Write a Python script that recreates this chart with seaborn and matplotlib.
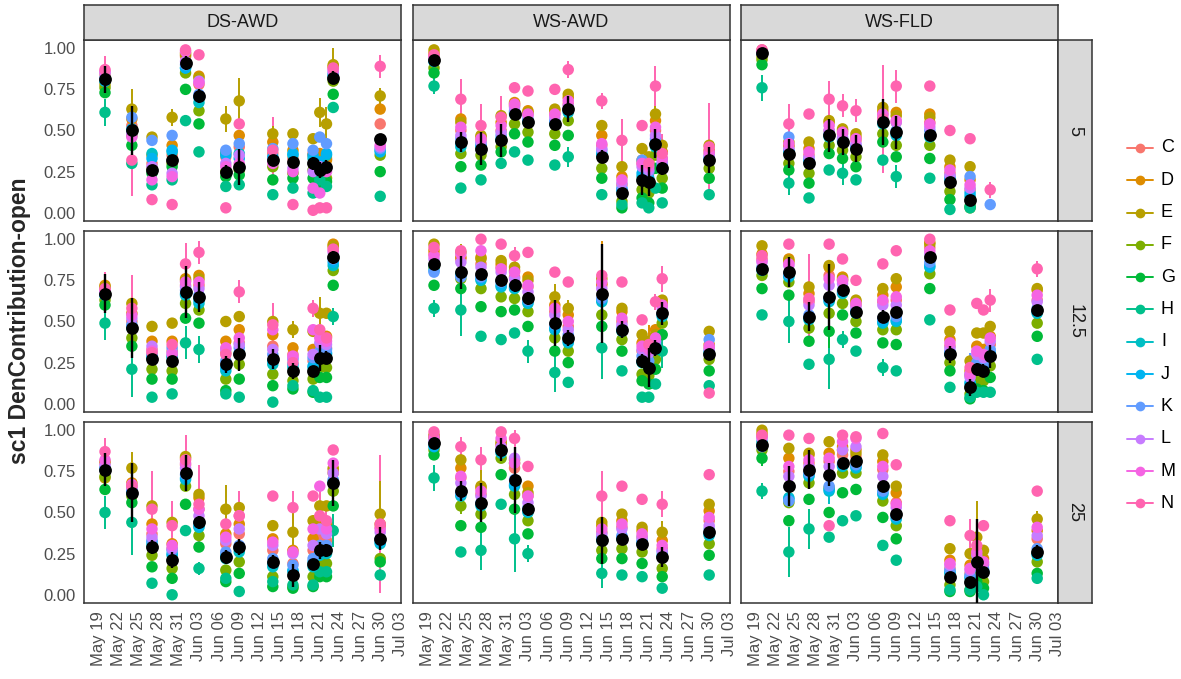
import numpy as np
import pandas as pd
import matplotlib
matplotlib.use("Agg")
import matplotlib.pyplot as plt
import matplotlib.dates as mdates
from matplotlib.lines import Line2D
import seaborn as sns

cats = ["C", "D", "E", "F", "G", "H", "I", "J", "K", "L", "M", "N"]
colors = ["#F8766D", "#DE8C00", "#B79F00", "#7CAE00", "#00BA38", "#00C08B",
          "#00BFC4", "#00B4F0", "#619CFF", "#C77CFF", "#F564E3", "#FF64B0"]
treatments = ["DS-AWD", "WS-AWD", "WS-FLD"]
levels = ["5", "12.5", "25"]

# ---- level 5 ----
dates_ds5 = ["05-20", "05-24", "05-27", "05-30", "06-01", "06-03", "06-07", "06-09",
             "06-14", "06-17", "06-20", "06-21", "06-22", "06-23", "06-30"]
vals_ds5 = [  # C D E F G H I J K L M N
    [.84, .80, .78, .76, .73, .61, .80, .80, .82, .85, .86, .87],
    [.53, .57, .63, .47, .41, .30, .50, .51, .58, .48, .46, .32],
    [.30, .35, .46, .27, .24, .17, .36, .33, .44, .28, .20, .08],
    [.35, .41, .58, .30, .28, .20, .37, .38, .47, .24, .22, .05],
    [.95, .97, .96, .85, .75, .56, .88, .88, .90, .92, .98, .99],
    [.78, .83, .82, .62, .54, .37, .67, .70, .72, .80, .79, .96],
    [.34, .36, .57, .25, .22, .16, .37, .35, .38, .30, .28, .03],
    [.40, .47, .68, .26, .23, .17, .36, .33, .42, .35, .30, .54],
    [.36, .43, .48, .28, .20, .11, .33, .34, .39, .32, .30, .38],
    [.33, .38, .48, .24, .21, .15, .35, .36, .42, .27, .25, .05],
    [.36, .35, .45, .26, .21, .12, .33, .35, .38, .25, .15, .015],
    [.32, .36, .61, .22, .18, .20, .30, .31, .46, .28, .12, .03],
    [.33, .32, .54, .21, .19, .16, .35, .36, .42, .27, .25, .03],
    [.88, .89, .90, .80, .72, .64, .84, .83, .85, .87, .86, .88],
    [.54, .63, .71, .35, .25, .10, .38, .37, .39, .40, .41, .89],
]
mean_ds5 = [.81, .50, .26, .32, .91, .71, .25, .28, .32, .31, .30, .26, .28, .82, .45]
sd_ds5 = [.08, .15, .03, .03, .04, .04, .04, .11, .03, .03, .04, .05, .04, .04, .03]
bars_ds5 = [("05-20", "N", .08), ("05-20", "H", .08), ("05-24", "N", .22), ("05-24", "E", .12),
            ("06-07", "E", .08), ("06-09", "E", .14), ("06-14", "N", .20), ("06-21", "E", .09),
            ("06-22", "E", .10), ("06-23", "E", .10), ("06-30", "N", .07), ("06-30", "E", .05),
            ("05-30", "E", .05), ("06-14", "E", .05)]

dates_ws5 = ["05-20", "05-24", "05-27", "05-30", "06-01", "06-03", "06-07", "06-09",
             "06-14", "06-17", "06-20", "06-21", "06-22", "06-23", "06-30"]
vals_ws5 = [
    [.95, .97, .99, .88, .85, .77, .92, .92, .93, .94, .95, .96],
    [.50, .57, .55, .36, .28, .15, .40, .42, .45, .47, .52, .69],
    [.44, .46, .47, .35, .29, .20, .40, .41, .42, .43, .45, .53],
    [.50, .55, .59, .40, .37, .30, .44, .45, .47, .49, .53, .58],
    [.66, .67, .65, .54, .48, .37, .60, .61, .62, .64, .66, .76],
    [.60, .62, .61, .49, .43, .32, .55, .56, .57, .59, .60, .74],
    [.60, .62, .63, .48, .41, .29, .54, .55, .56, .58, .60, .75],
    [.66, .70, .72, .56, .47, .34, .61, .62, .63, .65, .68, .87],
    [.41, .47, .53, .27, .21, .11, .35, .36, .38, .39, .42, .68],
    [.17, .22, .28, .07, .03, .05, .14, .14, .15, .18, .20, .44],
    [.30, .32, .39, .14, .09, .06, .22, .24, .32, .28, .30, .53],
    [.24, .31, .34, .12, .06, .03, .20, .21, .25, .26, .28, .30],
    [.50, .56, .60, .35, .27, .15, .40, .42, .45, .47, .52, .77],
    [.33, .37, .41, .21, .15, .06, .28, .29, .30, .31, .33, .36],
    [.36, .38, .41, .27, .21, .11, .32, .33, .34, .35, .37, .40],
]
mean_ws5 = [.93, .43, .39, .44, .60, .55, .54, .63, .34, .12, .20, .19, .42, .27, .32]
sd_ws5 = [.02, .06, .10, .10, .03, .03, .03, .08, .04, .02, .09, .09, .09, .04, .08]
bars_ws5 = [("05-24", "N", .12), ("05-27", "N", .13), ("05-30", "N", .13), ("06-09", "N", .05),
            ("06-17", "N", .13), ("06-22", "N", .12), ("06-21", "D", .06), ("06-30", "N", .27),
            ("06-23", "N", .12), ("05-20", "H", .05), ("06-09", "H", .06), ("06-14", "N", .05),
            ("06-22", "E", .05)]

dates_fld5 = ["05-20", "05-24", "05-27", "05-30", "06-01", "06-03", "06-07", "06-09",
              "06-14", "06-17", "06-20", "06-23"]
vals_fld5 = [
    [.99, .98, .95, .93, .90, .76, .97, .97, .97, .98, .98, .99],
    [.40, .41, .43, .30, .26, .18, .37, .38, .46, .39, .42, .54],
    [.35, .39, .43, .24, .18, .09, .31, .32, .33, .34, .37, .60],
    [.50, .55, .56, .41, .36, .26, .46, .47, .48, .50, .53, .69],
    [.48, .50, .51, .38, .33, .24, .43, .44, .45, .46, .49, .65],
    [.44, .46, .48, .34, .28, .20, .39, .40, .41, .42, .45, .62],
    [.60, .62, .64, .48, .43, .32, .54, .55, .56, .58, .60, .57],
    [.55, .61, .59, .41, .34, .22, .47, .48, .50, .55, .56, .77],
    [.55, .60, .58, .41, .33, .21, .46, .47, .50, .52, .54, .77],
    [.24, .28, .32, .13, .08, .02, .20, .21, .22, .23, .26, .50],
    [.14, .20, .28, .03, .04, .03, .10, .12, .22, .15, .17, .45],
    [None, None, None, None, None, None, None, None, .05, None, None, .14],
]
mean_fld5 = [.97, .36, .30, .47, .43, .39, .55, .49, .47, .19, .08, None]
sd_fld5 = [.02, .09, .03, .10, .08, .08, .14, .10, .03, .03, .02, None]
bars_fld5 = [("05-24", "N", .12), ("05-30", "N", .11), ("06-01", "N", .07), ("06-03", "N", .07),
             ("06-07", "N", .33), ("06-09", "N", .10), ("06-23", "N", .05), ("05-20", "H", .08),
             ("06-09", "H", .07), ("06-01", "H", .07), ("05-24", "H", .07)]

# ---- level 12.5 ----
dates_ds12 = ["05-20", "05-24", "05-27", "05-30", "06-01", "06-03", "06-07", "06-09",
              "06-14", "06-17", "06-20", "06-21", "06-22", "06-23"]
vals_ds12 = [
    [.70, .72, .71, .63, .60, .49, .66, .66, .67, .68, .69, .70],
    [.50, .55, .61, .40, .35, .21, .46, .47, .48, .52, .54, .58],
    [.33, .38, .47, .21, .15, .04, .28, .29, .30, .35, .32, .31],
    [.32, .38, .49, .20, .15, .06, .28, .29, .34, .31, .30, .36],
    [.72, .76, .75, .61, .52, .37, .66, .67, .69, .71, .74, .85],
    [.72, .78, .76, .57, .49, .33, .61, .63, .66, .70, .74, .92],
    [.31, .38, .50, .15, .08, .06, .20, .22, .26, .33, .34, .30],
    [.37, .45, .53, .24, .15, .04, .30, .31, .34, .36, .40, .68],
    [.35, .42, .50, .18, .11, .01, .24, .26, .30, .33, .45, .48],
    [.30, .34, .45, .14, .09, .11, .22, .24, .27, .28, .29, .25],
    [.26, .33, .44, .15, .07, .08, .22, .23, .28, .30, .45, .58],
    [.35, .42, .55, .22, .16, .04, .28, .30, .32, .37, .40, .45],
    [.34, .41, .55, .22, .16, .04, .30, .31, .33, .36, .38, .40],
    [.95, .97, .96, .81, .72, .53, .84, .86, .88, .92, .93, .94],
]
mean_ds12 = [.67, .46, .27, .26, .68, .65, .24, .30, .27, .20, .20, .28, .28, .89]
sd_ds12 = [.12, .18, .03, .03, .16, .09, .05, .10, .06, .05, .03, .08, .04, .04]
bars_ds12 = [("05-20", "N", .10), ("05-24", "N", .20), ("05-24", "H", .17), ("06-01", "N", .13),
             ("06-03", "N", .07), ("06-09", "N", .07), ("06-14", "N", .13), ("06-17", "E", .05),
             ("06-20", "N", .05), ("06-21", "E", .10), ("06-01", "H", .10), ("06-03", "H", .08),
             ("05-20", "H", .10), ("06-23", "H", .05)]

dates_ws12 = ["05-20", "05-24", "05-27", "05-30", "06-01", "06-03", "06-07", "06-09",
              "06-14", "06-17", "06-20", "06-21", "06-22", "06-23", "06-30"]
vals_ws12 = [
    [.91, .93, .97, .83, .72, .58, .84, .81, .80, .88, .90, .95],
    [.88, .89, .92, .76, .70, .57, .79, .78, .77, .86, .91, .93],
    [.85, .89, .88, .70, .59, .41, .75, .76, .77, .83, .93, 1.0],
    [.83, .85, .87, .65, .56, .39, .71, .72, .74, .80, .82, .97],
    [.77, .81, .83, .64, .57, .43, .70, .71, .72, .76, .80, .90],
    [.71, .77, .75, .56, .47, .32, .61, .62, .63, .68, .72, .92],
    [.56, .60, .65, .40, .32, .19, .45, .46, .48, .54, .58, .80],
    [.47, .54, .58, .32, .25, .13, .37, .38, .42, .45, .50, .74],
    [.72, .73, .76, .54, .47, .34, .62, .63, .64, .70, .74, .78],
    [.50, .56, .58, .39, .32, .20, .44, .45, .46, .48, .52, .74],
    [.32, .37, .42, .18, .14, .04, .25, .26, .29, .33, .35, .51],
    [.30, .34, .38, .17, .12, .04, .22, .23, .26, .31, .33, .36],
    [.40, .45, .42, .27, .21, .12, .33, .34, .36, .38, .40, .62],
    [.60, .61, .63, .49, .42, .32, .53, .54, .55, .58, .60, .76],
    [.34, .36, .44, .27, .20, .11, .31, .32, .39, .33, .35, .065],
]
mean_ws12 = [.85, .80, .79, .75, .72, .64, .49, .40, .67, .45, .26, .22, .34, .55, .30]
sd_ws12 = [.03, .10, .03, .03, .04, .04, .14, .05, .30, .05, .04, .12, .05, .07, .03]
bars_ws12 = [("05-24", "H", .16), ("06-01", "N", .05), ("06-14", "D", .26), ("06-14", "H", .19),
             ("06-07", "H", .12), ("06-23", "N", .08), ("06-22", "N", .05), ("06-21", "D", .14),
             ("06-07", "E", .08), ("06-03", "H", .07), ("06-09", "E", .05), ("05-20", "H", .05),
             ("06-23", "H", .10), ("05-24", "E", .05)]

dates_fld12 = ["05-20", "05-24", "05-27", "05-30", "06-01", "06-03", "06-07", "06-09",
               "06-14", "06-17", "06-20", "06-21", "06-22", "06-23", "06-30"]
vals_fld12 = [
    [.88, .91, .96, .78, .70, .54, .81, .82, .83, .86, .87, .90],
    [.86, .88, .87, .74, .66, .50, .77, .78, .79, .84, .85, .97],
    [.62, .67, .71, .46, .38, .24, .51, .52, .54, .60, .63, .64],
    [.78, .83, .84, .55, .44, .27, .62, .63, .64, .72, .76, .97],
    [.75, .77, .76, .61, .54, .39, .67, .68, .69, .73, .75, .88],
    [.60, .62, .63, .50, .43, .32, .55, .56, .57, .59, .61, .75],
    [.62, .66, .70, .45, .37, .22, .49, .50, .52, .60, .63, .85],
    [.63, .71, .76, .45, .36, .20, .50, .51, .53, .60, .65, .93],
    [.95, .98, .97, .79, .70, .51, .83, .84, .86, .91, .93, 1.0],
    [.35, .39, .44, .25, .20, .10, .30, .31, .32, .34, .37, .57],
    [.17, .20, .26, .06, .03, .04, .12, .13, .18, .16, .18, .22],
    [.28, .35, .43, .15, .09, .07, .22, .23, .25, .30, .32, .61],
    [.26, .33, .43, .14, .08, .07, .21, .22, .24, .28, .30, .57],
    [.36, .41, .47, .23, .16, .07, .30, .31, .33, .38, .40, .63],
    [.63, .69, .70, .49, .41, .27, .55, .56, .58, .62, .66, .82],
]
mean_fld12 = [.82, .80, .53, .65, .69, .56, .53, .56, .89, .30, .10, .21, .20, .29, .57]
sd_fld12 = [.03, .09, .09, .20, .03, .03, .04, .03, .03, .05, .05, .04, .04, .07, .03]
bars_fld12 = [("05-27", "N", .27), ("05-24", "H", .13), ("05-30", "H", .18), ("06-23", "N", .07),
              ("06-20", "K", .13), ("06-07", "H", .05), ("06-30", "N", .05), ("06-01", "H", .05),
              ("05-30", "G", .10)]

# ---- level 25 ----
dates_ds25 = ["05-20", "05-24", "05-27", "05-30", "06-01", "06-03", "06-07", "06-09",
              "06-14", "06-17", "06-20", "06-21", "06-22", "06-23", "06-30"]
vals_ds25 = [
    [.80, .81, .71, .72, .64, .50, .77, .76, .77, .79, .82, .87],
    [.66, .68, .77, .60, .56, .44, .62, .63, .64, .65, .67, .66],
    [.37, .43, .54, .24, .17, .07, .30, .32, .33, .35, .40, .52],
    [.28, .31, .44, .16, .10, .00, .24, .25, .27, .28, .30, .42],
    [.79, .83, .84, .66, .55, .39, .70, .71, .73, .77, .80, .82],
    [.52, .59, .61, .36, .29, .16, .41, .42, .44, .48, .52, .55],
    [.31, .37, .52, .15, .08, .10, .22, .24, .26, .33, .35, .43],
    [.37, .43, .53, .20, .13, .02, .26, .28, .30, .40, .48, .48],
    [.27, .34, .42, .11, .05, .08, .17, .19, .22, .30, .32, .60],
    [.19, .27, .38, .05, .04, .06, .14, .15, .18, .25, .26, .53],
    [.27, .34, .45, .11, .05, .06, .17, .20, .22, .30, .40, .60],
    [.35, .45, .54, .18, .11, .14, .24, .26, .30, .40, .66, .48],
    [.33, .43, .54, .19, .11, .14, .25, .27, .30, .37, .40, .45],
    [.76, .74, .77, .63, .54, .39, .68, .69, .70, .74, .80, .88],
    [.41, .43, .49, .22, .20, .12, .31, .32, .34, .38, .40, .43],
]
mean_ds25 = [.76, .62, .29, .21, .74, .44, .23, .29, .20, .12, .19, .27, .27, .68, .34]
sd_ds25 = [.10, .18, .04, .05, .11, .04, .04, .05, .04, .07, .03, .05, .04, .14, .07]
bars_ds25 = [("05-20", "N", .08), ("05-24", "H", .20), ("05-24", "E", .10), ("05-27", "N", .23),
             ("05-30", "N", .15), ("06-01", "N", .15), ("06-03", "N", .24), ("06-07", "E", .15),
             ("06-09", "N", .15), ("06-17", "N", .10), ("06-23", "H", .10), ("06-30", "N", .42),
             ("06-30", "E", .20), ("05-20", "H", .10), ("06-03", "H", .04), ("06-17", "E", .12),
             ("06-21", "N", .15), ("06-22", "N", .12)]

dates_ws25 = ["05-20", "05-24", "05-27", "05-30", "06-01", "06-03", "06-14", "06-17",
              "06-20", "06-23", "06-30"]
vals_ws25 = [
    [.95, .96, .97, .88, .85, .71, .91, .90, .92, .94, .96, .99],
    [.71, .77, .82, .54, .42, .26, .60, .61, .62, .68, .72, .90],
    [.61, .65, .66, .49, .41, .27, .54, .55, .56, .60, .63, .82],
    [.91, .92, .93, .83, .73, .55, .86, .87, .88, .90, .95, .99],
    [.77, .82, .80, .61, .52, .34, .66, .67, .70, .83, .80, .95],
    [.60, .66, .62, .45, .37, .25, .50, .51, .53, .56, .60, .78],
    [.38, .42, .44, .27, .22, .13, .33, .34, .35, .37, .40, .60],
    [.41, .45, .49, .28, .22, .12, .34, .35, .36, .40, .43, .66],
    [.35, .39, .41, .26, .19, .11, .31, .32, .33, .35, .37, .58],
    [.28, .33, .38, .16, .11, .04, .23, .24, .26, .27, .30, .55],
    [.45, .51, .55, .31, .24, .12, .36, .37, .40, .42, .47, .73],
]
mean_ws25 = [.92, .63, .56, .88, .70, .52, .33, .34, .31, .23, .38]
sd_ws25 = [.03, .06, .12, .07, .20, .04, .14, .03, .03, .06, .03]
bars_ws25 = [("05-24", "N", .06), ("05-27", "N", .08), ("05-27", "H", .12), ("06-01", "N", .05),
             ("06-01", "H", .20), ("06-14", "H", .09), ("06-14", "N", .15), ("06-23", "N", .08),
             ("06-23", "E", .07), ("05-20", "H", .08), ("05-27", "E", .10), ("05-24", "F", .05),
             ("06-03", "H", .05)]

dates_fld25 = ["05-20", "05-24", "05-27", "05-30", "06-01", "06-03", "06-07", "06-09",
               "06-17", "06-20", "06-21", "06-22", "06-30"]
vals_fld25 = [
    [.96, .98, 1.0, .88, .83, .63, .93, .91, .90, .95, .96, .97],
    [.75, .83, .89, .56, .45, .26, .59, .58, .57, .72, .78, .97],
    [.80, .85, .86, .68, .58, .40, .72, .73, .74, .78, .82, .95],
    [.81, .86, .93, .65, .50, .35, .63, .64, .66, .78, .83, .42],
    [.85, .90, .88, .74, .62, .45, .78, .79, .80, .88, .93, .97],
    [.84, .88, .86, .74, .64, .48, .77, .78, .79, .90, .95, .96],
    [.76, .81, .85, .57, .47, .30, .61, .62, .63, .72, .78, .98],
    [.56, .62, .66, .42, .34, .21, .46, .47, .48, .53, .55, .79],
    [.16, .21, .28, .06, .02, .03, .13, .14, .15, .18, .19, .45],
    [.13, .18, .25, .03, .02, .03, .10, .11, .12, .15, .16, .36],
    [.22, .27, .35, .12, .08, .05, .17, .18, .20, .24, .26, .30],
    [.18, .22, .27, .08, .04, .00, .14, .15, .16, .19, .20, .42],
    [.34, .39, .46, .20, .13, .10, .24, .25, .28, .36, .41, .63],
]
mean_fld25 = [.91, .66, .76, .73, .80, .81, .66, .49, .11, .08, .20, .14, .26]
sd_fld25 = [.03, .12, .12, .07, .03, .03, .03, .03, .02, .02, .26, .03, .04]
bars_fld25 = [("05-24", "H", .15), ("05-27", "H", .12), ("05-20", "G", .05), ("05-20", "H", .05),
              ("06-20", "N", .10), ("06-21", "E", .22), ("05-30", "I", .08), ("06-30", "E", .05),
              ("05-24", "D", .07)]

panels = {
    ("5", "DS-AWD"): (dates_ds5, vals_ds5, mean_ds5, sd_ds5, bars_ds5),
    ("5", "WS-AWD"): (dates_ws5, vals_ws5, mean_ws5, sd_ws5, bars_ws5),
    ("5", "WS-FLD"): (dates_fld5, vals_fld5, mean_fld5, sd_fld5, bars_fld5),
    ("12.5", "DS-AWD"): (dates_ds12, vals_ds12, mean_ds12, sd_ds12, bars_ds12),
    ("12.5", "WS-AWD"): (dates_ws12, vals_ws12, mean_ws12, sd_ws12, bars_ws12),
    ("12.5", "WS-FLD"): (dates_fld12, vals_fld12, mean_fld12, sd_fld12, bars_fld12),
    ("25", "DS-AWD"): (dates_ds25, vals_ds25, mean_ds25, sd_ds25, bars_ds25),
    ("25", "WS-AWD"): (dates_ws25, vals_ws25, mean_ws25, sd_ws25, bars_ws25),
    ("25", "WS-FLD"): (dates_fld25, vals_fld25, mean_fld25, sd_fld25, bars_fld25),
}

sns.set_style("white")
plt.rcParams["font.family"] = ["Liberation Sans", "DejaVu Sans"]

W, H = 1181, 679
fig = plt.figure(figsize=(W / 100, H / 100), dpi=100)


def rect(l, t, w, h):
    return [l / W, 1 - (t + h) / H, w / W, h / H]


def to_num(dates):
    return mdates.date2num(pd.to_datetime(["2019-" + d for d in dates]))


col_left = [84, 413, 741]
row_top = [40, 231, 422]
pw, ph = 317, 181
edge = "#333333"
cmap = dict(zip(cats, colors))

start = mdates.date2num(pd.Timestamp("2019-05-19"))
xticks = mdates.date2num(pd.date_range("2019-05-19", "2019-07-03", freq="3D"))

for r, lev in enumerate(levels):
    for c, trt in enumerate(treatments):
        dates, vals, mean, sd, bars = panels[(lev, trt)]
        ax = fig.add_axes(rect(col_left[c], row_top[r], pw, ph))
        x = to_num(dates)
        arr = np.array(vals, dtype=float)
        df = pd.DataFrame(arr, columns=cats)
        df["date"] = x
        df = df.melt(id_vars="date", var_name="cat", value_name="val").dropna()

        # error bars of single groups
        for d, cat, e in bars:
            i = dates.index(d)
            v = arr[i, cats.index(cat)]
            ax.vlines(x[i], v - e, v + e, color=cmap[cat], lw=1.4, zorder=2)
        sns.scatterplot(data=df, x="date", y="val", hue="cat", hue_order=cats,
                        palette=colors, s=68, linewidth=0, legend=False,
                        ax=ax, zorder=3)

        m = np.array(mean, dtype=float)
        s = np.array(sd, dtype=float)
        ok = ~np.isnan(m)
        ax.vlines(x[ok], m[ok] - s[ok], m[ok] + s[ok], color="black", lw=1.7, zorder=4)
        sns.scatterplot(x=x[ok], y=m[ok], color="black", s=85, linewidth=0,
                        ax=ax, zorder=5)

        ax.set_xlim(start - 2.13, start + 45.1)
        ax.set_ylim(-0.05, 1.05)
        ax.set_xlabel("")
        ax.set_ylabel("")
        ax.set_xticks(xticks)
        ax.set_yticks([0, .25, .5, .75, 1])
        for sp in ax.spines.values():
            sp.set_color(edge)
            sp.set_linewidth(1.1)
        ax.tick_params(length=4, width=1, color=edge, labelcolor="#4D4D4D",
                       labelsize=12, pad=2)
        if c == 0:
            ax.set_yticklabels(["0.00", "0.25", "0.50", "0.75", "1.00"])
        else:
            ax.tick_params(axis="y", length=0, labelleft=False)
        if r == 2:
            ax.set_xticklabels([pd.Timestamp(mdates.num2date(t)).strftime("%b %d")
                                for t in xticks], rotation=90)
        else:
            ax.tick_params(axis="x", length=0, labelbottom=False)

        if r == 0:
            sa = fig.add_axes(rect(col_left[c], 5, pw, 35))
            sa.set_facecolor("#D9D9D9")
            sa.set_xticks([])
            sa.set_yticks([])
            for sp in sa.spines.values():
                sp.set_color(edge)
                sp.set_linewidth(1.1)
            sa.text(0.5, 0.5, trt, ha="center", va="center", fontsize=13,
                    color="#1A1A1A", transform=sa.transAxes)
        if c == 2:
            sa = fig.add_axes(rect(1058, row_top[r], 34, ph))
            sa.set_facecolor("#D9D9D9")
            sa.set_xticks([])
            sa.set_yticks([])
            for sp in sa.spines.values():
                sp.set_color(edge)
                sp.set_linewidth(1.1)
            sa.text(0.5, 0.5, lev, ha="center", va="center", fontsize=13,
                    rotation=-90, color="#1A1A1A", transform=sa.transAxes)

fig.text(20 / W, 1 - 321 / H, "sc1 DenContribution-open", rotation=90,
         ha="center", va="center", fontsize=16.5, fontweight="bold")

# legend
for i, (cat, col) in enumerate(zip(cats, colors)):
    yy = 1 - (148 + i * 32.3) / H
    fig.add_artist(Line2D([1127 / W, 1153 / W], [yy, yy], color=col, lw=1.4))
    fig.add_artist(Line2D([1140 / W], [yy], color=col, marker="o", markersize=7,
                          markeredgewidth=0))
    fig.text(1161 / W, yy, cat, ha="left", va="center", fontsize=13, color="black")

fig.savefig("out.png", dpi=100)
